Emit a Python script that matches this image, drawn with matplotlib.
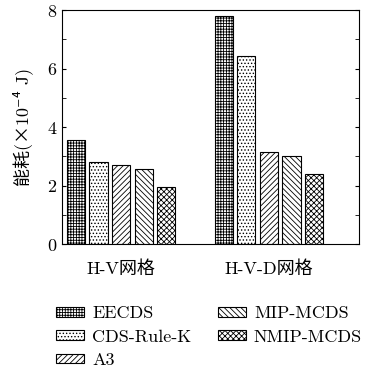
import matplotlib
matplotlib.use("Agg")
import matplotlib.pyplot as plt
import numpy as np

plt.rcParams['font.family'] = ['cmr10', 'Noto Sans CJK SC', 'DejaVu Sans']
plt.rcParams['mathtext.fontset'] = 'cm'
plt.rcParams['axes.formatter.use_mathtext'] = True
plt.rcParams['hatch.linewidth'] = 0.6

groups = ['H-V网格', 'H-V-D网格']
series = ['EECDS', 'CDS-Rule-K', 'A3', 'MIP-MCDS', 'NMIP-MCDS']
values = {
    'EECDS': [3.56, 7.81],
    'CDS-Rule-K': [2.80, 6.43],
    'A3': [2.70, 3.15],
    'MIP-MCDS': [2.56, 3.01],
    'NMIP-MCDS': [1.95, 2.39],
}
hatches = ['++++++', '.....', '//////', '\\\\\\\\\\\\', 'xxxxxx']

fig = plt.figure(figsize=(3.67, 3.72), dpi=100)
ax = fig.add_axes([0.169, 0.344, 0.809, 0.629])

x = np.arange(1, len(groups) + 1)
pitch = 0.153
width = 0.123
for i, s in enumerate(series):
    ax.bar(x + (i - 2) * pitch, values[s], width, facecolor='white',
           edgecolor='black', hatch=hatches[i], linewidth=0.8, label=s)

ax.set_xlim(0.60, 2.61)
ax.set_ylim(0, 8)
ax.set_xticks(x)
ax.set_xticklabels(groups, fontsize=13)
ax.set_yticks([0, 2, 4, 6, 8])
ax.set_yticks([1, 3, 5, 7], minor=True)
ax.tick_params(axis='y', direction='in', right=True, labelsize=13, length=3)
ax.tick_params(axis='y', which='minor', direction='in', right=True, length=3)
ax.tick_params(axis='x', length=0, pad=12)
ax.set_ylabel('能耗(×10⁻⁴ J)', fontsize=13, labelpad=10)
for sp in ax.spines.values():
    sp.set_linewidth(0.8)

handles, labels = ax.get_legend_handles_labels()
fig.legend(handles, labels,
           loc='upper center', bbox_to_anchor=(0.57, 0.212), ncol=2,
           frameon=False, fontsize=13, handlelength=1.55, handleheight=0.45,
           columnspacing=1.45, labelspacing=0.45, handletextpad=0.45,
           borderpad=0.2)

fig.savefig('out.png', dpi=100)
